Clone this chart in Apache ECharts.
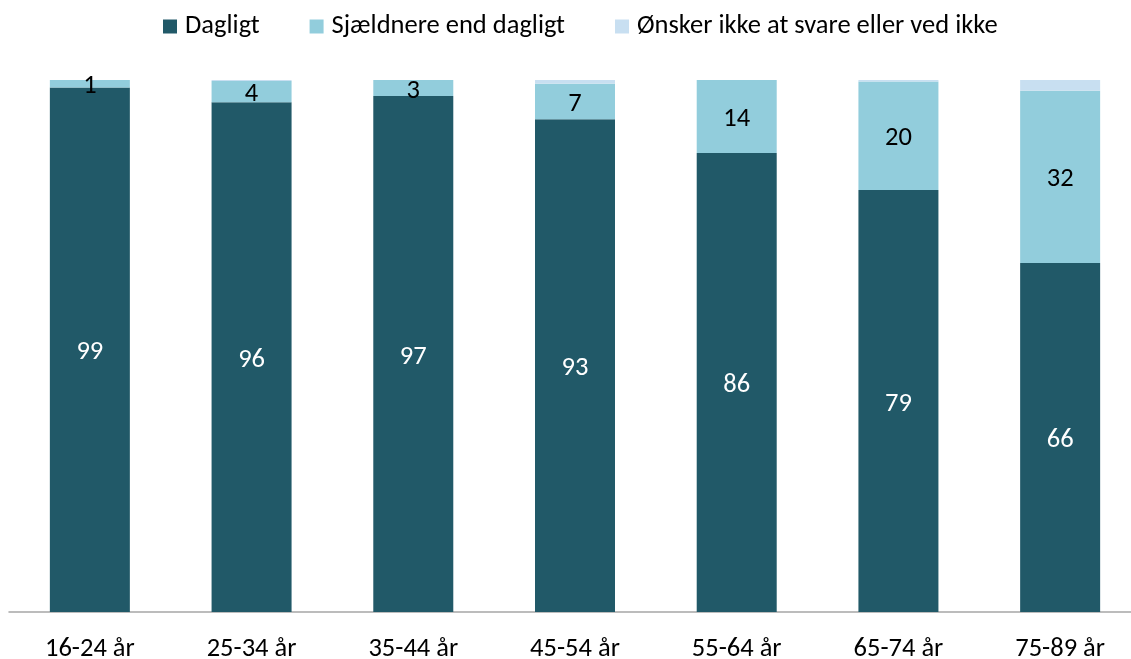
<!DOCTYPE html>
<html><head><meta charset="utf-8">
<script src="https://cdn.jsdelivr.net/npm/echarts@6/dist/echarts.min.js"></script>
<style>html,body{margin:0;padding:0;background:#fff}#c{width:1131px;height:659px}</style>
</head><body><div id="c"></div>
<script>
const categories = ['16-24 år','25-34 år','35-44 år','45-54 år','55-64 år','65-74 år','75-89 år'];
const dagligt = [98.6, 95.8, 97.0, 92.6, 86.3, 79.3, 65.6];
const sjaeldnere = [1.4, 4.0, 3.0, 6.7, 13.7, 20.4, 32.4];
const oensker = [0, 0.2, 0, 0.7, 0, 0.3, 2.0];
const seriesNames = ['Dagligt','Sjældnere end dagligt','Ønsker ikke at svare eller ved ikke'];
const colors = ['#215968','#92cddc','#c8dff1'];
const FONT = "Carlito, Calibri, 'Open Sans', sans-serif";
const FS = 26.5;
const chart = echarts.init(document.getElementById('c'), null, {renderer:'canvas'});
const lbl = (color) => ({show:true, position:'inside', offset:[0,3], color:color, fontSize:FS, fontFamily:FONT,
  formatter: p => Math.round(p.value)});
chart.setOption({
  animation:false,
  color: colors,
  legend:{left:163, top:13, padding:0, itemWidth:14, itemHeight:14, itemGap:50, icon:'rect',
    textStyle:{fontSize:FS, fontFamily:FONT, color:'#000', padding:[0,0,0,3]}, data: seriesNames},
  grid:{left:9, top:80, width:1132, height:532, containLabel:false, outerBoundsMode:'none'},
  xAxis:{type:'category', data:categories,
    axisLine:{lineStyle:{color:'#a6a6a6', width:1.5}}, axisTick:{show:false},
    axisLabel:{fontSize:FS, fontFamily:FONT, color:'#000', margin:24}},
  yAxis:{type:'value', min:0, max:100, show:false, splitLine:{show:false}},
  series:[
    {name:seriesNames[0], type:'bar', stack:'a', barWidth:80, data:dagligt, label:lbl('#fff')},
    {name:seriesNames[1], type:'bar', stack:'a', barWidth:80, data:sjaeldnere, label:lbl('#000')},
    {name:seriesNames[2], type:'bar', stack:'a', barWidth:80, data:oensker, label:{show:false}}
  ]
});
</script></body></html>
